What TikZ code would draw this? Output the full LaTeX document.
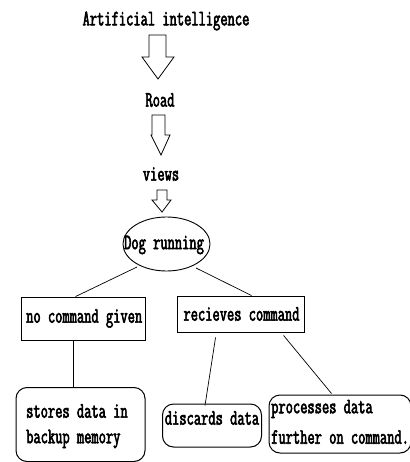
\documentclass[tikz,border=0pt]{standalone}
\usepackage{fontspec}
\usetikzlibrary{shapes.geometric,calc}
\newfontfamily\cf{Latin Modern Mono}[FakeStretch=0.64,FakeBold=2.6]
\tikzset{
  lbl/.style={font=\cf\fontsize{22}{28}\selectfont, inner sep=0pt, anchor=center},
  sqbox/.style={draw, line width=0.9pt, inner sep=0pt},
  rbox/.style={draw, line width=1pt, rounded corners=11pt, inner sep=0pt},
  link/.style={line width=0.7pt},
  blockarrow/.style={draw, line width=0.8pt, fill=white}
}
\begin{document}
\begin{tikzpicture}[x=1pt,y=-1pt]
\useasboundingbox (0,0) rectangle (409,462);

% chain of labels with outlined block arrows
\node[lbl] (ai) at (166,21) {Artificial intelligence};
\node[lbl] (road) at (160,100) {Road};
\node[lbl] (views) at (161,174) {views};

\draw[blockarrow] (149,35) -- (166,35) -- (166,57) -- (174,57) -- (158,79) -- (142,57) -- (149,57) -- cycle;
\draw[blockarrow] (152,115) -- (165,115) -- (165,135) -- (170,135) -- (161,155) -- (151,135) -- (152,135) -- cycle;
\draw[blockarrow] (157,190) -- (167,190) -- (167,200) -- (171,200) -- (162,212) -- (152,200) -- (157,200) -- cycle;

% decision ellipse
\node[draw, ellipse, line width=0.9pt, minimum width=87pt, minimum height=54pt, inner sep=0pt] (dog) at (166.5,244) {};
\node[lbl] (dogtxt) at (164,245) {Dog running};

% first level boxes
\node[sqbox, minimum width=124pt, minimum height=43pt] (nocmd) at (83,318.5) {};
\node[lbl, anchor=west] at (26,318.5) {no command given};
\node[sqbox, minimum width=127pt, minimum height=36pt] (recv) at (240.5,314) {};
\node[lbl] at (241.5,314) {recieves command};

% leaf boxes
\node[rbox, minimum width=129pt, minimum height=74pt] (stores) at (80.5,424.5) {};
\node[lbl, anchor=west] at (26,411) {stores data in};
\node[lbl, anchor=west] at (26,439) {backup memory};

\node[rbox, minimum width=99pt, minimum height=43pt] (discards) at (212,425.5) {};
\node[lbl] at (212,418) {discards data};

\node[rbox, minimum width=142pt, minimum height=58pt] (proc) at (340,424) {};
\node[lbl, anchor=west] at (271,409) {processes data};
\node[lbl, anchor=west] at (271,437) {further on command.};

% connectors
\draw[link] ($(dog.center)+(-29.5,23)$) -- ($(nocmd.north west)+(55,0)$);
\draw[link] ($(dog.center)+(29.5,24)$) -- ($(recv.north west)+(75,0)$);
\draw[link] ($(nocmd.south west)+(53,0)$) -- ($(stores.north west)+(58,0)$);
\draw[link] ($(recv.south west)+(39,5)$) -- ($(discards.north west)+(43,2)$);
\draw[link] ($(recv.south west)+(107,3)$) -- ($(proc.north west)+(63,-1)$);
\end{tikzpicture}
\end{document}
